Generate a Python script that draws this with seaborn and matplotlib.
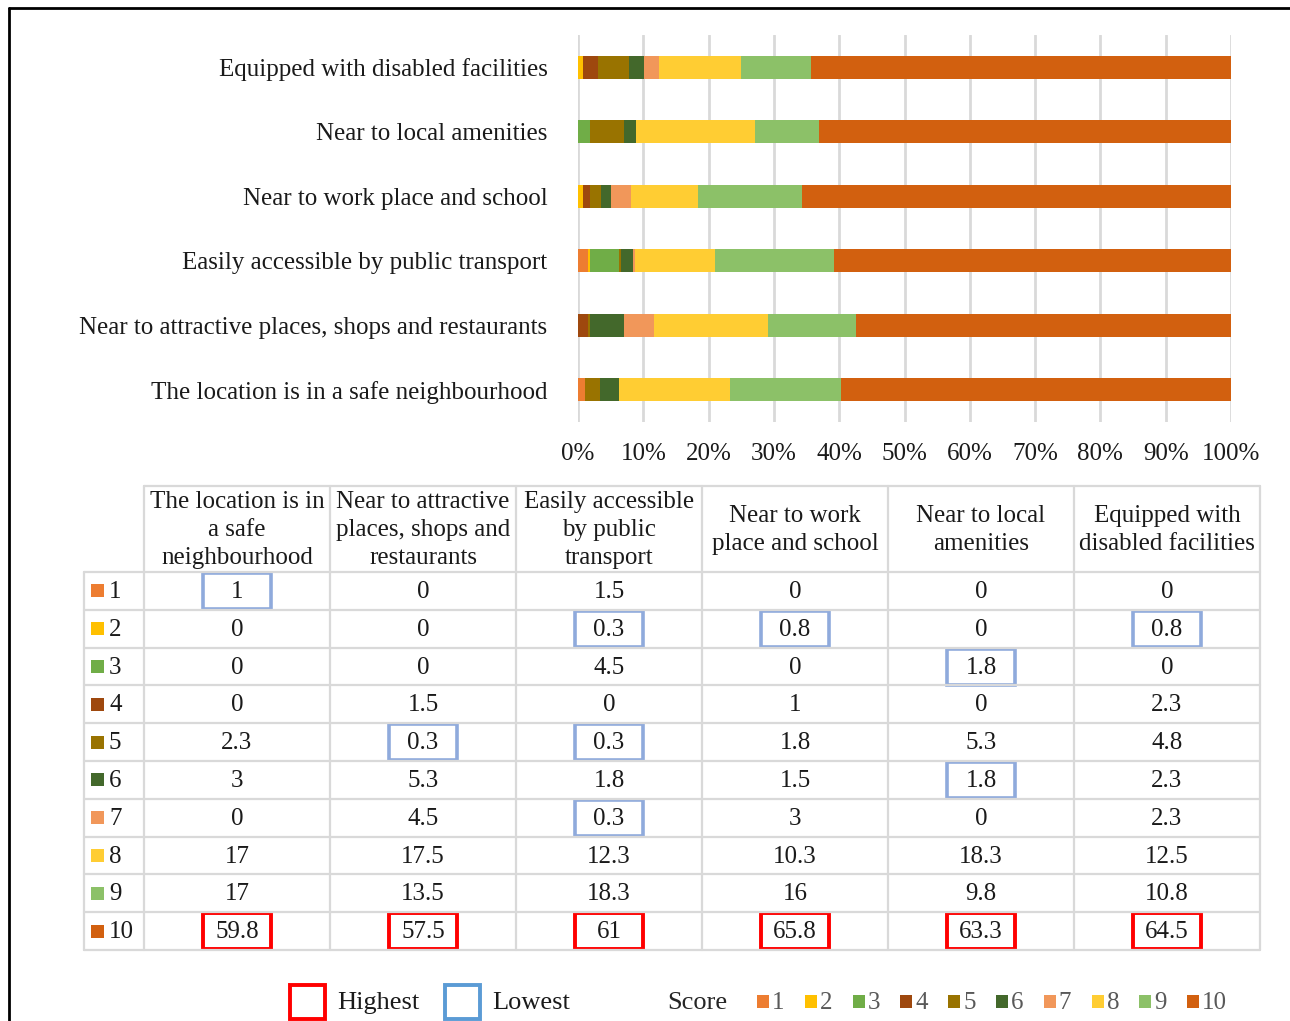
import numpy as np
import pandas as pd
import matplotlib
matplotlib.use("Agg")
import matplotlib.pyplot as plt
import seaborn as sns
from matplotlib.patches import Rectangle
from matplotlib.lines import Line2D

# ---------------- data ----------------
categories = [
    "The location is in a safe neighbourhood",
    "Near to attractive places, shops and restaurants",
    "Easily accessible by public transport",
    "Near to work place and school",
    "Near to local amenities",
    "Equipped with disabled facilities",
]
header_labels = [
    "The location is in\na safe\nneighbourhood",
    "Near to attractive\nplaces, shops and\nrestaurants",
    "Easily accessible\nby public\ntransport",
    "Near to work\nplace and school",
    "Near to local\namenities",
    "Equipped with\ndisabled facilities",
]
scores = [1, 2, 3, 4, 5, 6, 7, 8, 9, 10]
safe = [1, 0, 0, 0, 2.3, 3, 0, 17, 17, 59.8]
attractive = [0, 0, 0, 1.5, 0.3, 5.3, 4.5, 17.5, 13.5, 57.5]
transport = [1.5, 0.3, 4.5, 0, 0.3, 1.8, 0.3, 12.3, 18.3, 61]
work = [0, 0.8, 0, 1, 1.8, 1.5, 3, 10.3, 16, 65.8]
amenities = [0, 0, 1.8, 0, 5.3, 1.8, 0, 18.3, 9.8, 63.3]
disabled = [0, 0.8, 0, 2.3, 4.8, 2.3, 2.3, 12.5, 10.8, 64.5]
tick_values = [0, 0.1, 0.2, 0.3, 0.4, 0.5, 0.6, 0.7, 0.8, 0.9, 1.0]

# ---------------- style ----------------
score_colors = ["#ED7D31", "#FFC000", "#70AD47", "#9E480E", "#997300",
                "#43682B", "#F1975A", "#FFCD33", "#8CC168", "#D2600F"]
grid_col = "#D9D9D9"
txt_col = "#1a1a1a"

sns.set_style("white")
plt.rcParams["font.family"] = ["Liberation Serif", "DejaVu Serif"]

W, H = 1290, 1021
fig = plt.figure(figsize=(W / 100, H / 100), dpi=100)

series = [safe, attractive, transport, work, amenities, disabled]
df = pd.DataFrame(np.array(series), index=categories, columns=scores)
norm = df.div(df.sum(axis=1), axis=0)
cum = norm.cumsum(axis=1)
display_order = categories[::-1]

# bar axes in figure coordinates
x0, x1, y0, y1 = 578, 1231, 35, 422
ax = fig.add_axes([x0 / W, 1 - y1 / H, (x1 - x0) / W, (y1 - y0) / H])
for k in scores[::-1]:
    sns.barplot(x=cum[k].values, y=list(cum.index), order=display_order,
                orient="h", color=score_colors[k - 1], saturation=1,
                width=0.35, linewidth=0, ax=ax, zorder=3)
ax.set_xlim(0, 1)
ax.set_ylim(5.5, -0.5)
ax.set_xticks(tick_values)
ax.set_xticklabels([f"{int(round(t * 100))}%" for t in tick_values])
ax.xaxis.grid(True, color=grid_col, lw=2, zorder=0)
ax.set_axisbelow(True)
for s in ax.spines.values():
    s.set_visible(False)
ax.tick_params(axis="both", length=0, labelsize=18, colors=txt_col)
ax.tick_params(axis="y", pad=22)
ax.tick_params(axis="x", pad=15)
ax.set_xlabel("")
ax.set_ylabel("")

# overlay axes in pixel coordinates for table and legend
tax = fig.add_axes([0, 0, 1, 1])
tax.set_xlim(0, W)
tax.set_ylim(H, 0)
tax.axis("off")
tax.patch.set_visible(False)

# figure border (top and left)
tax.add_line(Line2D([9, 9], [8, H], color="black", lw=2))
tax.add_line(Line2D([9, W], [8, 8], color="black", lw=2))

col_edges = [144, 330, 516, 702, 888, 1074, 1260]
row_top_header = 486
row_edges = [572 + i * 37.8 for i in range(11)]
left_edge = 84

# grid
glw = 1.6
tax.add_line(Line2D([col_edges[0], col_edges[-1]], [row_top_header] * 2, color=grid_col, lw=glw))
for ry in row_edges:
    tax.add_line(Line2D([left_edge, col_edges[-1]], [ry, ry], color=grid_col, lw=glw))
for cx in col_edges:
    tax.add_line(Line2D([cx, cx], [row_top_header, row_edges[-1]], color=grid_col, lw=glw))
tax.add_line(Line2D([left_edge, left_edge], [row_edges[0], row_edges[-1]], color=grid_col, lw=glw))

# header text
for j, lab in enumerate(header_labels):
    cx = (col_edges[j] + col_edges[j + 1]) / 2
    tax.text(cx, (row_top_header + row_edges[0]) / 2 + 1, lab, ha="center", va="center",
             fontsize=18, color=txt_col, linespacing=1.36)

# row headers
for i, s in enumerate(scores):
    cy = (row_edges[i] + row_edges[i + 1]) / 2
    tax.add_patch(Rectangle((91, cy - 6.5), 13, 13, color=score_colors[i], lw=0))
    tax.text(109, cy + 1, str(s), ha="left", va="center", fontsize=18, color=txt_col)

# cell values and highlight boxes
for j, vals in enumerate(series):
    cx = (col_edges[j] + col_edges[j + 1]) / 2
    vmax = max(vals)
    vmin = min(v for v in vals if v > 0)
    for i, v in enumerate(vals):
        cy = (row_edges[i] + row_edges[i + 1]) / 2
        tax.text(cx, cy + 1, f"{v:g}", ha="center", va="center", fontsize=18, color=txt_col)
        if v == vmax:
            tax.add_patch(Rectangle((cx - 34, cy - 18), 68, 36, fill=False,
                                    ec="#FF0000", lw=2.8))
        elif v == vmin:
            tax.add_patch(Rectangle((cx - 34, cy - 18), 68, 36, fill=False,
                                    ec="#8FAADC", lw=2.6))

# legend
ly = 1002
tax.add_patch(Rectangle((290, ly - 17), 35, 34, fill=False, ec="#FF0000", lw=2.8))
tax.text(337, ly + 1, "Highest", ha="left", va="center", fontsize=19, color=txt_col)
tax.add_patch(Rectangle((445, ly - 17), 35, 34, fill=False, ec="#5B9BD5", lw=2.8))
tax.text(492, ly + 1, "Lowest", ha="left", va="center", fontsize=19, color=txt_col)
tax.text(667, ly + 1, "Score", ha="left", va="center", fontsize=19, color="#262626")
for i, s in enumerate(scores):
    sx = 757 + i * 47.8
    tax.add_patch(Rectangle((sx, ly - 7), 12, 13, color=score_colors[i], lw=0))
    tax.text(sx + 15, ly + 1, str(s), ha="left", va="center", fontsize=18, color="#595959")

fig.savefig("out.png", dpi=100, facecolor="white")
